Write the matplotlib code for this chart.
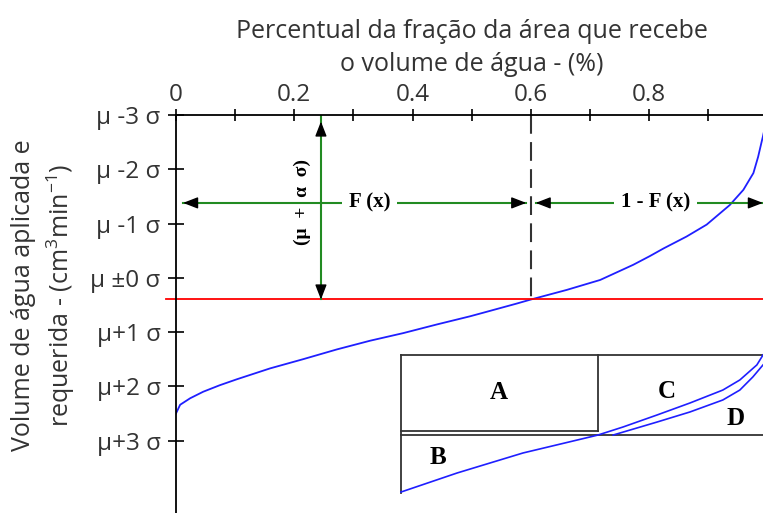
import matplotlib
matplotlib.use("Agg")
import matplotlib.pyplot as plt

plt.rcParams["font.family"] = ["Open Sans", "DejaVu Sans"]
plt.rcParams["mathtext.fontset"] = "custom"
plt.rcParams["mathtext.rm"] = "Open Sans"
plt.rcParams["mathtext.it"] = "Open Sans:italic"

TEXT = "#333333"
SERIF = ["Liberation Serif", "DejaVu Serif"]

# curva de distribuicao (fracao da area x lamina em unidades de sigma)
frac = [0.0, 0.007, 0.024, 0.046, 0.074, 0.103, 0.159, 0.215, 0.272,
        0.328, 0.384, 0.441, 0.497, 0.519, 0.576, 0.60, 0.660, 0.717,
        0.773, 0.801, 0.824, 0.863, 0.897, 0.936, 0.959, 0.976, 0.984,
        0.990, 0.992, 1.0]
vol = [2.50, 2.34, 2.22, 2.10, 1.98, 1.87, 1.67, 1.50, 1.32,
       1.16, 1.02, 0.86, 0.71, 0.645, 0.475, 0.40, 0.225, 0.04,
       -0.24, -0.40, -0.54, -0.76, -0.98, -1.34, -1.62, -1.93, -2.23,
       -2.51, -2.60, -3.0]

x_ticks = [0, 0.2, 0.4, 0.6, 0.8, 1.0]
x_ticklabels = ["0", "0.2", "0.4", "0.6", "0.8", "1"]
x_minor = [0.1, 0.3, 0.5, 0.7, 0.9]
y_ticks = [-3, -2, -1, 0, 1, 2, 3]
y_ticklabels = ["μ -3 σ", "μ -2 σ", "μ -1 σ", "μ ±0 σ", "μ+1 σ", "μ+2 σ", "μ+3 σ"]

f_x = 0.6      # F(x)
nivel = 0.4    # mu + alfa sigma

# esquema A/B/C/D (coordenadas do quadro, 0..1)
bc_x = [0.0, 0.155, 0.337, 0.522, 0.544, 0.613, 0.707, 0.798, 0.889, 0.936, 0.983, 1.0]
bc_y = [0.007, 0.145, 0.29, 0.406, 0.42, 0.478, 0.565, 0.652, 0.746, 0.819, 0.928, 1.0]
d_x = [0.586, 0.707, 0.798, 0.889, 0.936, 0.972, 1.0]
d_y = [0.42, 0.514, 0.587, 0.674, 0.746, 0.841, 0.928]
a_right = 0.544
a_bottom = 0.449
b_top = 0.42


def head(a, x, y, ox, oy):
    """ponta de seta preta em (x, y); (ox, oy) = posicao da base em pontos"""
    a.annotate("", xy=(x, y), xytext=(ox, oy), textcoords="offset points",
               arrowprops=dict(arrowstyle="-|>,head_length=0.9,head_width=0.35",
                               color="black", lw=1, shrinkA=0, shrinkB=0,
                               mutation_scale=10),
               annotation_clip=False)


fig = plt.figure(figsize=(7.63, 5.13), dpi=100)
ax = fig.add_axes([176 / 763, 0, 591.6 / 763, 398 / 513])
ax.set_xlim(0, 1)
ax.set_ylim(4.335, -3)

for s in ["right", "bottom"]:
    ax.spines[s].set_visible(False)
for s in ["left", "top"]:
    ax.spines[s].set_linewidth(1.3)

ax.xaxis.tick_top()
ax.xaxis.set_label_position("top")
ax.set_xticks(x_ticks, x_ticklabels)
ax.set_xticks(x_minor, minor=True)
ax.set_yticks(y_ticks, y_ticklabels)
ax.tick_params(axis="x", which="both", direction="inout", length=9, width=1.2,
               labelsize=17.5, labelcolor=TEXT, pad=1)
ax.tick_params(axis="y", direction="inout", length=12, width=1.2,
               labelsize=17.5, labelcolor=TEXT, pad=5)

ax.set_xlabel("Percentual da fração da área que recebe\no volume de água - (%)",
              fontsize=18, color=TEXT, labelpad=9, linespacing=1.42)
fig.text(44 / 763, 1 - 295 / 513,
         "Volume de água aplicada e\nrequerida - (cm$^3$min$^{-1}$)",
         rotation=90, ha="center", va="center", fontsize=18, color=TEXT,
         linespacing=1.38)

# curva, nivel e F(x)
ax.plot(frac, vol, color="#1f1fff", lw=1.3)
ax.plot([-0.017, 1.0], [nivel, nivel], color="red", lw=1.3, clip_on=False)
ax.plot([f_x, f_x], [-3, nivel], color="#333333", lw=1.5, ls=(0, (9, 4)))

# setas verdes
green = "#228B22"
y_arr = -1.38
ax.plot([0.012, f_x - 0.008], [y_arr, y_arr], color=green, lw=1.5)
ax.plot([f_x + 0.008, 0.992], [y_arr, y_arr], color=green, lw=1.5, clip_on=False)
head(ax, 0.012, y_arr, 9, 0)
head(ax, f_x - 0.008, y_arr, -9, 0)
head(ax, f_x + 0.008, y_arr, 9, 0)
head(ax, 0.992, y_arr, -9, 0)
ax.text(0.327, y_arr, "F (x)", family=SERIF, weight="bold", fontsize=15,
        ha="center", va="center", bbox=dict(fc="white", ec="none", pad=5))
ax.text(0.81, y_arr, "1 - F (x)", family=SERIF, weight="bold", fontsize=15,
        ha="center", va="center", bbox=dict(fc="white", ec="none", pad=5))

x_v = 0.245
ax.plot([x_v, x_v], [-3, nivel], color=green, lw=1.5)
head(ax, x_v, -2.88, 0, -9)
head(ax, x_v, nivel, 0, 9)
ax.text(0.214, -1.40, "(μ  +  α  σ)", family=SERIF, weight="bold", fontsize=14,
        rotation=90, ha="center", va="center")

# quadro A/B/C/D
ins = fig.add_axes([401 / 763, 20 / 513, 362 / 763, 138 / 513])
ins.set_xlim(0, 1)
ins.set_ylim(0, 1)
ins.axis("off")
box = dict(color="#333333", lw=1.3, clip_on=False)
ins.plot([0, 1], [1, 1], **box)
ins.plot([0, 0], [0, 1], **box)
ins.plot([0, a_right], [a_bottom, a_bottom], **box)
ins.plot([a_right, a_right], [a_bottom, 1], **box)
ins.plot([0, 1], [b_top, b_top], **box)
ins.plot(bc_x, bc_y, color="#1f1fff", lw=1.2, clip_on=False)
ins.plot(d_x, d_y, color="#1f1fff", lw=1.2, clip_on=False)
for lab, lx, ly in [("A", 0.271, 0.725), ("B", 0.102, 0.254),
                    ("C", 0.735, 0.732), ("D", 0.925, 0.543)]:
    ins.text(lx, ly, lab, family=SERIF, weight="bold", fontsize=18,
             ha="center", va="center")

fig.savefig("out.png", dpi=100)
